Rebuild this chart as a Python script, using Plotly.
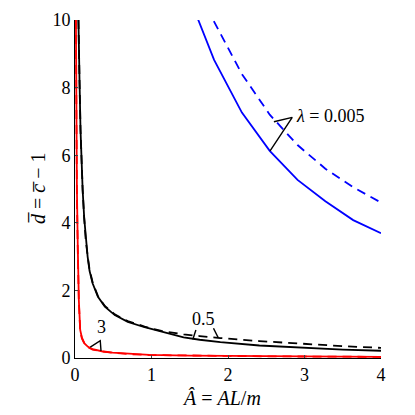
import plotly.graph_objects as go

# lambda = 0.005 (blue)
blue_x = [1.4545, 1.8182, 2.1818, 2.5455, 2.9091, 3.2727, 3.6364, 4.0]
blue_solid = [10.9, 8.82, 7.26, 6.13, 5.27, 4.64, 4.08, 3.69]
blue_dash = [12.5, 9.95, 8.4, 7.2, 6.3, 5.6, 5.05, 4.6]

# lambda = 0.5 (black)
black_x = [0.045, 0.05, 0.06, 0.072, 0.085, 0.10, 0.12, 0.14, 0.165, 0.19, 0.23, 0.30,
           0.39, 0.52, 0.69, 0.91, 1.13, 1.42, 1.63, 1.9, 2.41, 3.0, 3.5, 4.0]
black_solid = [10.0, 9.6, 8.1, 6.75, 5.8, 4.97, 4.15, 3.5, 3.0, 2.58, 2.21, 1.81,
               1.52, 1.27, 1.07, 0.91, 0.78, 0.61, 0.54, 0.47, 0.37, 0.3, 0.25, 0.215]
black_dash = [10.0, 9.6, 8.1, 6.75, 5.8, 4.97, 4.15, 3.5, 3.02, 2.62, 2.24, 1.83,
              1.54, 1.29, 1.09, 0.93, 0.80, 0.70, 0.65, 0.59, 0.50, 0.41, 0.35, 0.30]

# lambda = 3 (red)
red_x = [0.012, 0.016, 0.025, 0.037, 0.05, 0.068, 0.09, 0.124, 0.17, 0.23, 0.35, 0.49,
         0.7, 0.97, 1.5, 2.0, 2.5, 3.0, 3.5, 4.0]
red_solid = [10.0, 7.0, 5.0, 3.2, 1.72, 0.83, 0.6, 0.43, 0.33, 0.26, 0.2, 0.16,
             0.12, 0.09, 0.07, 0.06, 0.05, 0.045, 0.04, 0.035]
red_dash = [10.0, 6.8, 4.8, 3.1, 1.68, 0.81, 0.58, 0.42, 0.32, 0.25, 0.19, 0.155,
            0.115, 0.088, 0.068, 0.058, 0.049, 0.044, 0.039, 0.034]

x_ticks = [0, 1, 2, 3, 4]
y_ticks = [0, 2, 4, 6, 8, 10]

# leader lines for the curve labels
lead_red_x = [0.2, 0.33, 0.34]
lead_red_y = [0.32, 0.51, 0.21]
lead_blk1_x = [1.54, 1.58]
lead_blk1_y = [0.55, 0.83]
lead_blk2_x = [1.81, 1.87]
lead_blk2_y = [0.88, 0.61]
lead_blue_x = [2.55, 2.84, 2.60]
lead_blue_y = [6.13, 7.12, 6.99]

font = "Liberation Serif"

fig = go.Figure()

def add(x, y, color, dash="solid", width=1.8):
    fig.add_trace(go.Scatter(x=x, y=y, mode="lines", cliponaxis=True,
                             line=dict(color=color, width=width, dash=dash),
                             showlegend=False, hoverinfo="skip"))

add(blue_x, blue_dash, "#0000ff", dash="9px,6px")
add(blue_x, blue_solid, "#0000ff")
add(black_x, black_dash, "black", dash="9px,6px")
add(black_x, black_solid, "black")
add(red_x, red_dash, "#ff0000", dash="9px,6px")
add(red_x, red_solid, "#ff0000")

add(lead_red_x, lead_red_y, "black", width=1.4)
add(lead_blk1_x, lead_blk1_y, "black", width=1.4)
add(lead_blk2_x, lead_blk2_y, "black", width=1.4)
add(lead_blue_x, lead_blue_y, "black", width=1.4)

fig.add_annotation(x=0.34, y=0.55, text="3", showarrow=False, xanchor="center",
                   yanchor="bottom", font=dict(family=font, size=18, color="black"))
fig.add_annotation(x=1.68, y=0.8, text="0.5", showarrow=False, xanchor="center",
                   yanchor="bottom", font=dict(family=font, size=18, color="black"))
fig.add_annotation(x=2.86, y=7.15, text="<i>λ</i> = 0.005", showarrow=False,
                   xanchor="left", yanchor="middle",
                   font=dict(family=font, size=18, color="black"))

# axis titles as annotations for exact placement
fig.add_annotation(xref="paper", yref="paper", x=0.48, y=0, yshift=-40,
                   text="<i>Â</i> = <i>AL</i>/<i>m</i>", showarrow=False,
                   xanchor="center", yanchor="middle",
                   font=dict(family=font, size=20, color="black"))
fig.add_annotation(xref="paper", yref="paper", x=0, y=0.5, xshift=-37,
                   text="<i>d\u0305</i> = <i>c\u0305</i> − 1", textangle=-90,
                   showarrow=False, xanchor="center", yanchor="middle",
                   font=dict(family=font, size=20, color="black"))

# page body adds an 8px offset, so the figure is 407px and margins are shifted
fig.update_layout(
    width=407, height=407,
    margin=dict(l=67, r=34, t=12, b=57),
    plot_bgcolor="white", paper_bgcolor="white",
    font=dict(family=font, size=18, color="black"),
    xaxis=dict(range=[0, 4], tickvals=x_ticks, ticks="inside", ticklen=3,
               showline=True, linecolor="black", linewidth=1, showgrid=False,
               zeroline=False, automargin=False),
    yaxis=dict(range=[0, 10], tickvals=y_ticks, ticks="inside", ticklen=3,
               showline=True, linecolor="black", linewidth=1, showgrid=False,
               zeroline=False, automargin=False),
)

fig.write_html("out.html")
